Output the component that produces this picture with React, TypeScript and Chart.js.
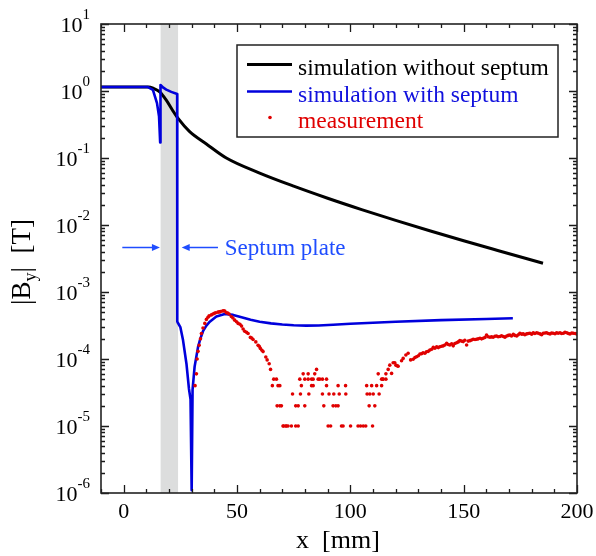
import React, { useEffect, useRef } from "react";
import { Chart, registerables } from "chart.js";

Chart.register(...registerables);

// ---- data ----
const noSeptumX = [-10, 11, 13, 15.9, 18.8, 21.5, 24, 29, 36.5, 45.3, 60, 75, 90, 105, 120, 135, 150, 165, 185];
const noSeptumY = [1.15, 1.15, 1.1, 0.97, 0.73, 0.52, 0.39, 0.25, 0.162, 0.1, 0.0596, 0.038, 0.0251, 0.017, 0.01175, 0.00822, 0.00582, 0.00417, 0.00269];

const withSeptumX = [-10, 10.5, 12.9, 14.7, 15.6, 16.1, 16.25, 17.5, 18.8, 21, 23.6, 23.65, 25.0, 26.2, 27.7, 28.8, 29.5, 30.0, 30.4, 31.3, 32.8, 33.8, 35.0, 36.5, 38.0, 40.9, 44.6, 48.3, 52, 56, 60, 65, 70, 75, 80.6, 86, 92.4, 100, 120, 140, 160, 171.7];
const withSeptumY = [1.15, 1.15, 1.04, 0.66, 0.42, 0.17, 1.23, 1.12, 1.05, 0.97, 0.9, 3.6e-4, 3.0e-4, 1.9e-4, 8.5e-5, 3.6e-5, 2.5e-5, 1.1e-6, 3.5e-5, 7.7e-5, 1.5e-4, 2.0e-4, 2.6e-4, 3.15e-4, 3.6e-4, 4.3e-4, 4.7e-4, 4.55e-4, 4.2e-4, 3.85e-4, 3.6e-4, 3.4e-4, 3.27e-4, 3.19e-4, 3.15e-4, 3.17e-4, 3.25e-4, 3.35e-4, 3.6e-4, 3.8e-4, 3.95e-4, 4.05e-4];

const measX = [
  31.5, 32.1, 32.4, 32.8, 33.3, 33.9, 34.3, 35.0, 35.8, 36.5,
  37.2, 37.7, 38.7, 39.4, 40.0, 40.6, 41.6, 42.2, 42.7, 43.6,
  44.1, 44.6, 45.3, 45.9, 46.5, 47.5, 48.2, 49.0, 49.8, 50.5,
  51.3, 52.0, 52.7, 53.4, 54.2, 54.9, 55.9, 56.5, 57.1, 58.3,
  59.3, 59.8, 60.3, 61.0, 61.5, 62.7, 63.3, 64.2, 64.8, 65.6,
  66.2, 67.4, 67.7, 68.1, 68.9, 68.9, 69.6, 70.3, 70.6, 71.5,
  71.8, 72.5, 74.0, 74.5, 75.9, 75.9, 77.0, 77.0, 77.7, 78.0,
  78.4, 79.2, 79.9, 79.9, 81.4, 81.4, 81.7, 82.9, 82.9, 83.6,
  83.6, 84.3, 85.1, 85.8, 86.5, 87.7, 87.7, 88.3, 89.5, 89.5,
  90.2, 90.6, 91.3, 92.4, 92.7, 93.6, 94.6, 94.6, 95.1, 96.1,
  96.8, 97.9, 98.0, 100.1, 103.4, 104.5, 105.7, 106.8, 107.2, 107.4,
  108.3, 108.6, 109.4, 109.8, 110.1, 110.8, 111.6, 112.3, 112.7, 113.8,
  113.8, 114.2, 114.5, 115.7, 115.7, 116.7, 117.4, 118.2, 118.9, 119.6,
  120.1, 120.7, 121.1, 122.6, 123.3, 124.5, 125.5, 126.6, 127.7, 128.5,
  129.2, 130.0, 130.7, 131.4, 132.1, 132.9, 133.6, 134.4, 135.1, 135.9,
  136.6, 137.3, 138.1, 138.8, 139.5, 140.3, 141.0, 141.7, 142.5, 143.2,
  143.9, 144.7, 145.4, 146.1, 146.9, 147.6, 148.3, 149.1, 149.8, 150.5,
  151.3, 152.0, 152.8, 153.5, 154.2, 155.0, 155.7, 156.4, 157.2, 157.9,
  158.6, 159.4, 160.1, 160.8, 161.6, 162.3, 163.0, 163.8, 164.5, 165.2,
  166.0, 166.7, 167.5, 168.2, 169.0, 169.7, 170.4, 171.1, 171.9, 172.6,
  173.4, 174.1, 174.8, 175.6, 176.3, 177.0, 177.8, 178.5, 179.2, 180.0,
  180.7, 181.4, 182.2, 182.9, 183.7, 184.4, 185.1, 185.9, 186.6, 187.3,
  188.1, 188.8, 189.5, 190.3, 191.0, 191.7, 192.5, 193.2, 194.0, 194.7,
  195.5, 196.2, 196.9, 197.7, 198.4, 199.2, 199.9,
];
const measY = [
  4e-5, 6e-5, 1.0e-4, 1.3e-4, 1.6e-4, 2.0e-4, 2.4e-4, 2.9e-4, 3.4e-4, 3.9e-4,
  4.2e-4, 4.4e-4, 4.55e-4, 4.7e-4, 4.8e-4, 4.9e-4, 5.0e-4, 5.05e-4, 5.1e-4, 5.2e-4,
  5.25e-4, 5.2e-4, 4.9e-4, 4.85e-4, 4.7e-4, 4.3e-4, 4.1e-4, 3.8e-4, 3.6e-4, 3.4e-4,
  3.3e-4, 3.1e-4, 2.8e-4, 2.6e-4, 2.5e-4, 2.4e-4, 2.1e-4, 2.05e-4, 1.95e-4, 1.8e-4,
  1.6e-4, 1.55e-4, 1.44e-4, 1.35e-4, 1.29e-4, 1.07e-4, 9.7e-5, 8.5e-5, 7e-5, 4e-5,
  5e-5, 5e-5, 2e-5, 4e-5, 2e-5, 4e-5, 2e-5, 1e-5, 1e-5, 1e-5,
  1e-5, 1e-5, 1e-5, 3e-5, 2e-5, 1e-5, 2e-5, 1e-5, 5e-5, 3e-5,
  4e-5, 6e-5, 5e-5, 2e-5, 6e-5, 5e-5, 3e-5, 5e-5, 4e-5, 5e-5,
  4e-5, 6e-5, 7e-5, 5e-5, 5e-5, 5e-5, 3e-5, 2e-5, 5e-5, 4e-5,
  1e-5, 3e-5, 1e-5, 2e-5, 3e-5, 2e-5, 4e-5, 2e-5, 3e-5, 1e-5,
  1e-5, 4e-5, 3e-5, 1e-5, 1e-5, 1e-5, 1e-5, 1e-5, 4e-5, 3e-5,
  2e-5, 3e-5, 4e-5, 1e-5, 3e-5, 2e-5, 4e-5, 6e-5, 3e-5, 4e-5,
  5e-5, 5e-5, 5e-5, 6e-5, 5e-5, 7e-5, 8.1e-5, 6.1e-5, 8.8e-5, 8.8e-5,
  8.1e-5, 7.9e-5, 7.8e-5, 9.4e-5, 1.02e-4, 1.15e-4, 1.22e-4, 9.7e-5, 9.9e-5, 1.05e-4,
  1.08e-4, 1.12e-4, 1.19e-4, 1.2e-4, 1.24e-4, 1.22e-4, 1.28e-4, 1.3e-4, 1.36e-4, 1.4e-4,
  1.49e-4, 1.45e-4, 1.52e-4, 1.48e-4, 1.52e-4, 1.55e-4, 1.57e-4, 1.62e-4, 1.71e-4, 1.65e-4,
  1.62e-4, 1.68e-4, 1.57e-4, 1.7e-4, 1.75e-4, 1.8e-4, 1.88e-4, 1.85e-4, 1.82e-4, 1.9e-4,
  1.62e-4, 1.85e-4, 1.88e-4, 1.92e-4, 1.97e-4, 1.95e-4, 1.97e-4, 2.0e-4, 2.04e-4, 2.0e-4,
  2.04e-4, 2.1e-4, 2.28e-4, 2.15e-4, 2.11e-4, 2.14e-4, 2.11e-4, 2.18e-4, 2.2e-4, 2.15e-4,
  2.17e-4, 2.22e-4, 2.17e-4, 2.12e-4, 2.2e-4, 2.25e-4, 2.28e-4, 2.2e-4, 2.33e-4, 2.25e-4,
  2.2e-4, 2.3e-4, 2.42e-4, 2.35e-4, 2.37e-4, 2.3e-4, 2.37e-4, 2.4e-4, 2.42e-4, 2.35e-4,
  2.47e-4, 2.4e-4, 2.47e-4, 2.42e-4, 2.37e-4, 2.3e-4, 2.42e-4, 2.45e-4, 2.47e-4, 2.4e-4,
  2.37e-4, 2.45e-4, 2.42e-4, 2.38e-4, 2.47e-4, 2.42e-4, 2.47e-4, 2.4e-4, 2.42e-4, 2.5e-4,
  2.47e-4, 2.4e-4, 2.37e-4, 2.45e-4, 2.42e-4, 2.4e-4, 2.37e-4,
];

const xTickValues = [0, 50, 100, 150, 200];
const xTickLabels = ["0", "50", "100", "150", "200"];
const yExponents = [-6, -5, -4, -3, -2, -1, 0, 1];
const septumRange = [16.3, 24.0];
const legendLabels = ["simulation without septum", "simulation with septum", "measurement"];
const annotationText = "Septum plate";
const annotationY = 4.7e-3;
const arrowLeftX = [-0.6, 16.0];
const arrowRightX = [25.6, 41.6];
const annotationTextX = 44.6;

const SERIF = '"Liberation Serif", "Times New Roman", serif';
const BLACK_LINE = "#000000";
const BLUE_LINE = "#0000dc";
const RED = "#e00000";
const ANNOT_BLUE = "#1f4dff";

const decor = {
  id: "decor",
  beforeDatasetsDraw(chart: any) {
    const { ctx, chartArea, scales } = chart;
    const x0 = scales.x.getPixelForValue(septumRange[0]);
    const x1 = scales.x.getPixelForValue(septumRange[1]);
    ctx.save();
    ctx.fillStyle = "#dcdddd";
    ctx.fillRect(x0, chartArea.top, x1 - x0, chartArea.bottom - chartArea.top);
    ctx.restore();
  },
  afterDraw(chart: any) {
    const { ctx, chartArea, scales } = chart;
    const { left, right, top, bottom } = chartArea;
    const xs = scales.x;
    const ys = scales.y;
    ctx.save();
    // ticks
    ctx.strokeStyle = "#1a1a1a";
    ctx.lineWidth = 1.3;
    ctx.beginPath();
    for (let v = -10; v <= 200; v += 10) {
      const px = Math.round(xs.getPixelForValue(v)) + 0.5;
      const len = v % 50 === 0 ? 8 : 4;
      ctx.moveTo(px, bottom);
      ctx.lineTo(px, bottom - len);
      ctx.moveTo(px, top);
      ctx.lineTo(px, top + len);
    }
    for (const e of yExponents) {
      const py = Math.round(ys.getPixelForValue(Math.pow(10, e))) + 0.5;
      ctx.moveTo(left, py);
      ctx.lineTo(left + 8, py);
      ctx.moveTo(right, py);
      ctx.lineTo(right - 8, py);
      if (e < 1) {
        for (let k = 2; k <= 9; k++) {
          const pm = Math.round(ys.getPixelForValue(k * Math.pow(10, e))) + 0.5;
          ctx.moveTo(left, pm);
          ctx.lineTo(left + 4, pm);
          ctx.moveTo(right, pm);
          ctx.lineTo(right - 4, pm);
        }
      }
    }
    ctx.stroke();
    // frame
    ctx.lineWidth = 1.6;
    ctx.strokeStyle = "#222";
    ctx.strokeRect(left, top, right - left, bottom - top);

    // x tick labels
    ctx.fillStyle = "#000";
    ctx.font = `22px ${SERIF}`;
    ctx.textAlign = "center";
    ctx.textBaseline = "alphabetic";
    xTickValues.forEach((v, i) => {
      ctx.fillText(xTickLabels[i], xs.getPixelForValue(v), bottom + 25);
    });
    // y tick labels with superscripts
    for (const e of yExponents) {
      const py = ys.getPixelForValue(Math.pow(10, e));
      const exp = e < 0 ? "-" + String(-e) : String(e);
      ctx.font = `15px ${SERIF}`;
      const we = ctx.measureText(exp).width;
      ctx.font = `22px ${SERIF}`;
      const wb = ctx.measureText("10").width;
      const rightEdge = 90;
      ctx.textAlign = "left";
      ctx.fillText("10", rightEdge - we - wb, py + 7.5);
      ctx.font = `15px ${SERIF}`;
      ctx.fillText(exp, rightEdge - we, py - 5.5);
    }
    // x title
    ctx.font = `26px ${SERIF}`;
    ctx.textAlign = "center";
    ctx.fillText("x  [mm]", 338, 548);
    // y title (rotated)
    ctx.save();
    ctx.translate(30, 262);
    ctx.rotate(-Math.PI / 2);
    const big = `27px ${SERIF}`;
    const small = `18px ${SERIF}`;
    const parts: [string, string, number][] = [
      ["|B", big, 0],
      ["y", small, 6],
      ["|", big, 0],
      ["  [T]", big, 0],
    ];
    let total = 0;
    for (const [t, f] of parts) {
      ctx.font = f;
      total += ctx.measureText(t).width;
    }
    let cx = -total / 2;
    ctx.textAlign = "left";
    for (const [t, f, dy] of parts) {
      ctx.font = f;
      ctx.fillText(t, cx, dy);
      cx += ctx.measureText(t).width;
    }
    ctx.restore();

    // annotation arrows
    const ay = Math.round(ys.getPixelForValue(annotationY)) + 0.5;
    ctx.strokeStyle = ANNOT_BLUE;
    ctx.fillStyle = ANNOT_BLUE;
    ctx.lineWidth = 1.6;
    const la = xs.getPixelForValue(arrowLeftX[0]);
    const lb = xs.getPixelForValue(arrowLeftX[1]);
    const ra = xs.getPixelForValue(arrowRightX[0]);
    const rb = xs.getPixelForValue(arrowRightX[1]);
    ctx.beginPath();
    ctx.moveTo(la, ay);
    ctx.lineTo(lb - 6, ay);
    ctx.moveTo(ra + 6, ay);
    ctx.lineTo(rb, ay);
    ctx.stroke();
    ctx.beginPath();
    ctx.moveTo(lb, ay);
    ctx.lineTo(lb - 8, ay - 3.5);
    ctx.lineTo(lb - 8, ay + 3.5);
    ctx.closePath();
    ctx.moveTo(ra, ay);
    ctx.lineTo(ra + 8, ay - 3.5);
    ctx.lineTo(ra + 8, ay + 3.5);
    ctx.closePath();
    ctx.fill();
    ctx.font = `23px ${SERIF}`;
    ctx.textAlign = "left";
    ctx.fillText(annotationText, xs.getPixelForValue(annotationTextX), ay + 7);

    // legend box
    const bx0 = 237, by0 = 45, bx1 = 558, by1 = 137;
    ctx.fillStyle = "#fff";
    ctx.fillRect(bx0, by0, bx1 - bx0, by1 - by0);
    ctx.strokeStyle = "#222";
    ctx.lineWidth = 1.5;
    ctx.strokeRect(bx0, by0, bx1 - bx0, by1 - by0);
    const rowsY = [64.5, 91.5, 117.5];
    const colors = ["#000", "#1010dd", RED];
    ctx.lineWidth = 3;
    ctx.strokeStyle = BLACK_LINE;
    ctx.beginPath();
    ctx.moveTo(247, rowsY[0]);
    ctx.lineTo(292, rowsY[0]);
    ctx.stroke();
    ctx.strokeStyle = BLUE_LINE;
    ctx.lineWidth = 2.6;
    ctx.beginPath();
    ctx.moveTo(247, rowsY[1]);
    ctx.lineTo(292, rowsY[1]);
    ctx.stroke();
    ctx.fillStyle = RED;
    ctx.beginPath();
    ctx.arc(270, rowsY[2], 1.8, 0, Math.PI * 2);
    ctx.fill();
    ctx.font = `23.5px ${SERIF}`;
    legendLabels.forEach((t, i) => {
      ctx.fillStyle = colors[i];
      ctx.fillText(t, 298, rowsY[i] + 10);
    });
    ctx.restore();
  },
};

export default function App() {
  const ref = useRef<HTMLCanvasElement>(null);
  useEffect(() => {
    const canvas = ref.current;
    if (!canvas) return;
    const chart = new Chart(canvas, {
      type: "scatter",
      data: {
        datasets: [
          {
            label: legendLabels[2],
            data: measX.map((x, i) => ({ x, y: measY[i] })),
            showLine: false,
            pointRadius: 1.8,
            pointBackgroundColor: RED,
            pointBorderWidth: 0,
            pointBorderColor: RED,
            order: 0,
          },
          {
            label: legendLabels[1],
            data: withSeptumX.map((x, i) => ({ x, y: withSeptumY[i] })),
            showLine: true,
            borderColor: BLUE_LINE,
            borderWidth: 2.6,
            pointRadius: 0,
            tension: 0,
            borderJoinStyle: "round",
            order: 1,
          },
          {
            label: legendLabels[0],
            data: noSeptumX.map((x, i) => ({ x, y: noSeptumY[i] })),
            showLine: true,
            borderColor: BLACK_LINE,
            borderWidth: 3,
            pointRadius: 0,
            cubicInterpolationMode: "monotone",
            order: 2,
          },
        ],
      } as any,
      options: {
        responsive: false,
        maintainAspectRatio: false,
        animation: false,
        events: [],
        layout: { padding: { left: 101, top: 24, right: 19, bottom: 63 } },
        plugins: { legend: { display: false }, tooltip: { enabled: false }, title: { display: false } },
        scales: {
          x: { type: "linear", min: -10, max: 200, display: false },
          y: { type: "logarithmic", min: 1e-6, max: 10, display: false },
        },
      } as any,
      plugins: [decor],
    });
    return () => chart.destroy();
  }, []);
  return (
    <div style={{ position: "absolute", left: 0, top: 0, width: 596, height: 556, background: "#fff" }}>
      <canvas ref={ref} width={596} height={556} style={{ display: "block" }} />
    </div>
  );
}
